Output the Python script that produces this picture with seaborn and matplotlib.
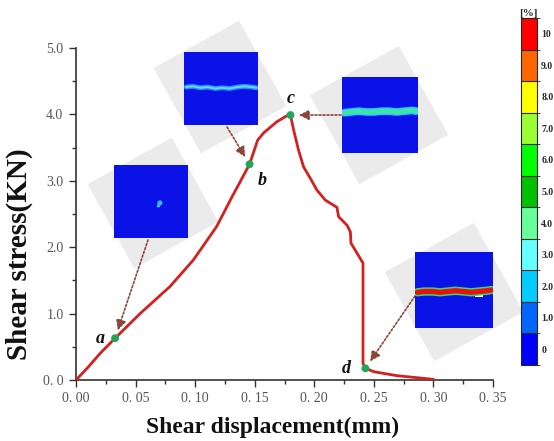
import numpy as np
import pandas as pd
import matplotlib
matplotlib.use("Agg")
import matplotlib.pyplot as plt
import seaborn as sns
from matplotlib.colors import ListedColormap, BoundaryNorm
from matplotlib.patches import Polygon
from matplotlib.ticker import MultipleLocator, FixedLocator, FixedFormatter
import matplotlib.colorbar as mcolorbar

# ---------------- data ----------------
disp = [0.000, 0.010, 0.0202, 0.0328, 0.0538, 0.079, 0.0986, 0.118, 0.131, 0.1457,
        0.1524, 0.1574, 0.1686, 0.177, 0.180, 0.1826, 0.1868, 0.191, 0.1966, 0.2022,
        0.2092, 0.219, 0.2204, 0.2275, 0.2303, 0.2308, 0.2359, 0.2409, 0.2409, 0.2429,
        0.2499, 0.2695, 0.300]
stress = [0.00, 0.19, 0.40, 0.63, 1.00, 1.41, 1.81, 2.31, 2.76, 3.25,
          3.61, 3.72, 3.89, 3.98, 3.99, 3.77, 3.46, 3.21, 3.04, 2.86,
          2.71, 2.60, 2.46, 2.33, 2.23, 2.06, 1.91, 1.76, 0.25, 0.176,
          0.125, 0.065, 0.01]

stage_names = ["a", "b", "c", "d"]
stage_x = [0.0328, 0.1457, 0.180, 0.2429]
stage_y = [0.63, 3.25, 3.99, 0.176]

xtick_values = [0.00, 0.05, 0.10, 0.15, 0.20, 0.25, 0.30, 0.35]
xtick_labels = ["0. 00", "0. 05", "0. 10", "0. 15", "0. 20", "0. 25", "0. 30", "0. 35"]
ytick_values = [0.0, 1.0, 2.0, 3.0, 4.0, 5.0]
ytick_labels = ["0. 0", "1.0", "2.0", "3.0", "4.0", "5.0"]

strain_levels = [0, 1, 2, 3, 4, 5, 6, 7, 8, 9, 10]
strain_labels = ["0", "1.0", "2.0", "3.0", "4.0", "5.0", "6.0", "7.0", "8.0", "9.0", "10"]
strain_colors = ["#0000ff", "#0066ff", "#00ccff", "#66ffff", "#66ff99", "#00c000",
                 "#00ff00", "#99ff33", "#ffff00", "#ff6600", "#ff0000"]

df = pd.DataFrame({"disp": disp, "stress": stress})
pts = pd.DataFrame({"disp": stage_x, "stress": stage_y, "stage": stage_names})

# ---------------- style ----------------
sns.set_style("ticks")
plt.rcParams["font.family"] = ["Liberation Serif", "DejaVu Serif"]

W, H = 554, 441
fig = plt.figure(figsize=(W / 100, H / 100), dpi=100)


def fx(x):
    return x / W


def fy(y):
    return 1 - y / H


ax_l, ax_r, ax_t, ax_b = 76, 493, 48, 380
ax = fig.add_axes([fx(ax_l), fy(ax_b), (ax_r - ax_l) / W, (ax_b - ax_t) / H])

# gray rotated squares behind the insets (pixel centre, half diagonal)
gray_sq = [(153, 203, 68), (220, 87, 69), (379, 115, 72), (454, 292, 72)]
for cx, cy, h in gray_sq:
    angs = np.deg2rad([196, 286, 16, 106])
    corners = [(fx(cx + h * np.cos(a)), fy(cy + h * np.sin(a))) for a in angs]
    ax.add_patch(Polygon(corners, closed=True, facecolor="#ebebeb", edgecolor="none",
                         transform=fig.transFigure, zorder=0, clip_on=False))

sns.lineplot(data=df, x="disp", y="stress", ax=ax, color="#d42020", lw=2.0,
             sort=False, estimator=None, zorder=3)
sns.scatterplot(data=pts, x="disp", y="stress", ax=ax, color="#1fa85a", s=32,
                edgecolor="none", zorder=4, legend=False)

ax.set_xlim(0, 0.35)
ax.set_ylim(0, 5.0)
ax.xaxis.set_major_locator(FixedLocator(xtick_values))
ax.xaxis.set_major_formatter(FixedFormatter(xtick_labels))
ax.yaxis.set_major_locator(FixedLocator(ytick_values))
ax.yaxis.set_major_formatter(FixedFormatter(ytick_labels))
ax.xaxis.set_minor_locator(MultipleLocator(0.025))
ax.yaxis.set_minor_locator(MultipleLocator(0.5))
ax.tick_params(which="major", length=5, width=1.0, color="#333333",
               labelsize=10, labelcolor="#555555", direction="out", pad=4)
ax.tick_params(which="minor", length=3, width=1.0, color="#333333", direction="out")
for s in ["top", "right"]:
    ax.spines[s].set_visible(False)
for s in ["left", "bottom"]:
    ax.spines[s].set_color("#333333")
    ax.spines[s].set_linewidth(1.2)

ax.set_xlabel("Shear displacement(mm)", fontsize=17, fontweight="bold", color="#111111")
ax.set_ylabel("Shear stress(KN)", fontsize=21, fontweight="bold", color="#111111")
ax.xaxis.set_label_coords(0.471, -0.112)
ax.yaxis.set_label_coords(-0.103, 0.38)

# stage letters
letter_off = {"a": (-11, 0), "b": (9, -12), "c": (0, 12), "d": (-14, 0)}
for n, x, y in zip(stage_names, stage_x, stage_y):
    ox, oy = letter_off[n]
    ax.annotate(n, (x, y), xytext=(ox, oy), textcoords="offset points",
                ha="center", va="center", fontsize=13, fontstyle="italic",
                fontweight="bold", color="#111111", zorder=5)

# arrows from insets to stage points (tails in pixel coordinates)
arrow_tail = {"a": (148, 240), "b": (227, 127), "c": (341, 115), "d": (415, 296)}
for n, x, y in zip(stage_names, stage_x, stage_y):
    tx, ty = arrow_tail[n]
    ax.annotate("", xy=(x, y), xytext=(fx(tx), fy(ty)), textcoords="figure fraction",
                arrowprops=dict(arrowstyle="-|>,head_length=0.6,head_width=0.3",
                                color="#8c4638", lw=1.2, ls=(0, (1.2, 1.2)),
                                shrinkA=0, shrinkB=6), zorder=5)

# inset strain maps
inset_box = [(114, 165, 188, 238), (184, 52, 258, 125), (342, 77, 418, 153), (415, 252, 493, 328)]
base_blue = "#0a12e8"
insets = []
for (x0, y0, x1, y1) in inset_box:
    ia = fig.add_axes([fx(x0), fy(y1), (x1 - x0) / W, (y1 - y0) / H])
    ia.set_facecolor(base_blue)
    ia.set_xlim(0, 1)
    ia.set_ylim(0, 1)
    ia.set_xticks([])
    ia.set_yticks([])
    for s in ia.spines.values():
        s.set_visible(False)
    insets.append(ia)

crack_x = [0.03, 0.12, 0.22, 0.32, 0.42, 0.52, 0.62, 0.72, 0.82, 0.92, 0.98]
# inset 1: small spot
insets[0].scatter([0.62, 0.6], [0.48, 0.44], s=[14, 6], color="#39b6ff", edgecolor="none")
# inset 2: faint crack line
c2 = [0.52, 0.53, 0.51, 0.52, 0.50, 0.51, 0.50, 0.52, 0.53, 0.52, 0.51]
insets[1].plot(crack_x, c2, color="#2f8cff", lw=3.5, solid_capstyle="round")
insets[1].plot(crack_x, c2, color="#60e0ff", lw=1.4, solid_capstyle="round")
# inset 3: green crack band
c3 = [0.53, 0.54, 0.55, 0.54, 0.54, 0.55, 0.55, 0.54, 0.55, 0.56, 0.55]
insets[2].plot(crack_x, c3, color="#30c8ff", lw=5.5, solid_capstyle="round")
insets[2].plot(crack_x, c3, color="#3ee89a", lw=3.0, solid_capstyle="round")
# inset 4: red crack band
c4 = [0.47, 0.48, 0.48, 0.47, 0.48, 0.49, 0.48, 0.47, 0.48, 0.49, 0.50]
insets[3].plot(crack_x, c4, color="#30e060", lw=6.0, solid_capstyle="round")
insets[3].plot(crack_x, c4, color="#e81010", lw=3.8, solid_capstyle="round")
insets[3].scatter([0.82], [0.46], marker="s", s=30, color="white", edgecolor="none")

# colorbar
cmap = ListedColormap(strain_colors)
bounds = np.arange(-0.5, 11.5, 1.0)
norm = BoundaryNorm(bounds, cmap.N)
cax = fig.add_axes([fx(521), fy(365), 16 / W, (365 - 18) / H])
cb = mcolorbar.ColorbarBase(cax, cmap=cmap, norm=norm, boundaries=bounds,
                            ticks=strain_levels, drawedges=True)
cb.outline.set_linewidth(0.8)
cb.dividers.set_linewidth(0.8)
cb.ax.set_yticklabels(strain_labels)
cb.ax.tick_params(length=0, pad=3, labelsize=7)
for t in cb.ax.get_yticklabels():
    t.set_fontweight("bold")
fig.text(fx(528), fy(13), "[%]", ha="center", va="center", fontsize=8, fontweight="bold")

fig.savefig("out.png", dpi=100)
